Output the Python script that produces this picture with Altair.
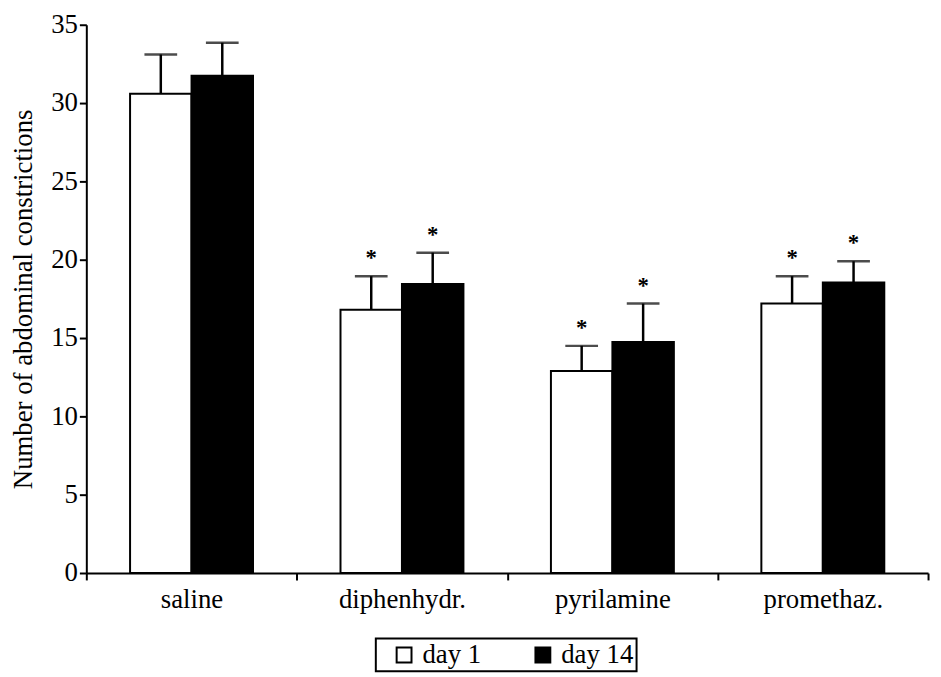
import altair as alt
import pandas as pd

drugs = ["saline", "diphenhydr.", "pyrilamine", "promethaz."]
days = ["day 1", "day 14"]
day1_mean = [30.6, 16.8, 12.9, 17.2]
day1_upper = [33.1, 18.95, 14.5, 18.95]
day14_mean = [31.75, 18.45, 14.75, 18.55]
day14_upper = [33.85, 20.45, 17.2, 19.9]
signif = ["", "*", "*", "*"]

rows = []
for i, d in enumerate(drugs):
    rows.append({"drug": d, "day": days[0], "value": day1_mean[i], "err": day1_upper[i], "sig": signif[i]})
    rows.append({"drug": d, "day": days[1], "value": day14_mean[i], "err": day14_upper[i], "sig": signif[i]})
df = pd.DataFrame(rows)

FONT = "Liberation Serif"

x_enc = alt.X(
    "drug:N", sort=drugs,
    scale=alt.Scale(paddingInner=0, paddingOuter=0),
    axis=alt.Axis(title=None, labelAngle=0, tickBand="extent", tickSize=7, tickWidth=2,
                  domainWidth=2, domainColor="black", tickColor="black",
                  labelFont=FONT, labelFontSize=27, labelColor="black", labelPadding=7),
)
xo_enc = alt.XOffset("day:N", sort=days, scale=alt.Scale(paddingInner=0, paddingOuter=0.7117))
y_scale = alt.Scale(domain=[0, 35], nice=False)

base = alt.Chart(df).encode(x=x_enc, xOffset=xo_enc)

bars = base.mark_bar(stroke="black", strokeWidth=2).encode(
    y=alt.Y("value:Q", scale=y_scale,
            axis=alt.Axis(values=[0, 5, 10, 15, 20, 25, 30, 35], grid=False,
                          title="Number of abdominal constrictions",
                          tickSize=7, tickWidth=2, domainWidth=2, domainColor="black",
                          tickColor="black", labelFont=FONT, labelFontSize=27,
                          labelColor="black", labelPadding=2, titleFont=FONT,
                          titleFontSize=27, titleFontWeight="normal", titleColor="black",
                          titlePadding=13)),
    fill=alt.Fill("day:N", sort=days,
                  scale=alt.Scale(domain=days, range=["white", "black"]),
                  legend=alt.Legend(title=None, orient="none", legendX=292, legendY=619,
                                    direction="horizontal", symbolType="square",
                                    symbolSize=225, symbolStrokeColor="black",
                                    symbolStrokeWidth=2, symbolOffset=12,
                                    labelFont=FONT, labelFontSize=27,
                                    labelColor="black", labelOffset=5, columnPadding=36,
                                    padding=3, strokeColor="black")),
)

err_rule = base.mark_rule(color="black", strokeWidth=2.5).encode(
    y=alt.Y("value:Q", scale=y_scale), y2="err:Q"
)
caps = base.mark_tick(color="black", size=33, thickness=2.5).encode(
    y=alt.Y("err:Q", scale=y_scale)
)
stars = base.mark_text(font=FONT, fontSize=23, fontWeight="bold", dy=-11,
                       baseline="alphabetic", color="black").encode(
    y=alt.Y("err:Q", scale=y_scale), text="sig:N"
)

chart = alt.layer(bars, err_rule, caps, stars).properties(
    width=849, height=553,
    autosize=alt.AutoSizeParams(type="none"),
    padding={"left": 79, "top": 14, "right": 5, "bottom": 101},
).configure_view(stroke=None).configure_legend(strokeWidth=2)

chart.save("out.html", embed_options={"renderer": "svg", "actions": False})
